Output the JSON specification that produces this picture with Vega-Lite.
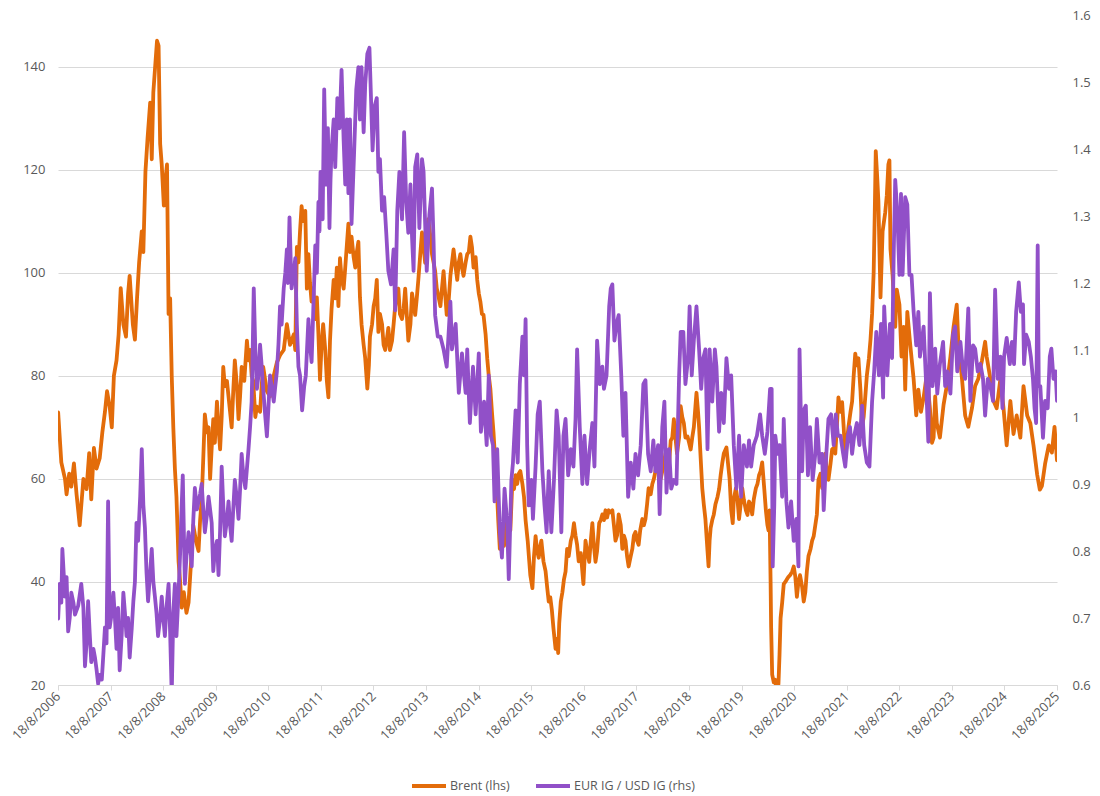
{
  "$schema": "https://vega.github.io/schema/vega-lite/v6.json",
  "width": 999,
  "height": 670,
  "autosize": {"type": "none"},
  "padding": {"left": 58, "top": 15, "right": 43, "bottom": 111},
  "background": "white",
  "config": {
    "view": {"stroke": null},
    "font": "Open Sans",
    "axis": {"labelFont": "Open Sans", "labelFontSize": 13, "labelColor": "#595959", "title": null},
    "legend": {"labelFont": "Open Sans", "labelFontSize": 12.5, "labelColor": "#595959"}
  },
  "datasets": {
    "brent": [
      {"year":2006.63,"value":72.9},{"year":2006.69,"value":63.2},{"year":2006.76,"value":60},{"year":2006.79,"value":57},{"year":2006.84,"value":61},{"year":2006.88,"value":58.5},{"year":2006.93,"value":63},{"year":2006.98,"value":57},{"year":2007.04,"value":51},{"year":2007.11,"value":60},{"year":2007.17,"value":58},{"year":2007.22,"value":65},{"year":2007.26,"value":56},{"year":2007.31,"value":66},{"year":2007.36,"value":62},{"year":2007.42,"value":64},{"year":2007.47,"value":69},{"year":2007.52,"value":73},{"year":2007.56,"value":77},{"year":2007.61,"value":74},{"year":2007.65,"value":70},{"year":2007.69,"value":80},{"year":2007.74,"value":83},{"year":2007.78,"value":88},{"year":2007.82,"value":97},{"year":2007.87,"value":90},{"year":2007.92,"value":87.6},{"year":2007.96,"value":96},{"year":2007.99,"value":99.4},
      {"year":2008.05,"value":90},{"year":2008.09,"value":87},{"year":2008.13,"value":95},{"year":2008.17,"value":102},{"year":2008.22,"value":108},{"year":2008.25,"value":104},{"year":2008.29,"value":119.6},{"year":2008.33,"value":126},{"year":2008.38,"value":133},{"year":2008.41,"value":122},{"year":2008.44,"value":135},{"year":2008.48,"value":140.7},{"year":2008.51,"value":145},{"year":2008.54,"value":144},{"year":2008.57,"value":125},{"year":2008.60,"value":121},{"year":2008.64,"value":113},{"year":2008.67,"value":118},{"year":2008.70,"value":121},{"year":2008.73,"value":92},{"year":2008.76,"value":95},{"year":2008.79,"value":80},{"year":2008.82,"value":70},{"year":2008.85,"value":62},{"year":2008.88,"value":56.5},{"year":2008.92,"value":44},{"year":2008.95,"value":40},{"year":2008.98,"value":35},
      {"year":2009.02,"value":38},{"year":2009.07,"value":34},{"year":2009.11,"value":36},{"year":2009.14,"value":41},{"year":2009.17,"value":46},{"year":2009.20,"value":51},{"year":2009.25,"value":48},{"year":2009.30,"value":46},{"year":2009.33,"value":52},{"year":2009.36,"value":56},{"year":2009.39,"value":64},{"year":2009.42,"value":72.5},{"year":2009.46,"value":69},{"year":2009.49,"value":70},{"year":2009.52,"value":60},{"year":2009.55,"value":66},{"year":2009.58,"value":71.6},{"year":2009.61,"value":67},{"year":2009.65,"value":75},{"year":2009.68,"value":70},{"year":2009.71,"value":65.7},{"year":2009.74,"value":72},{"year":2009.77,"value":81.7},{"year":2009.80,"value":78},{"year":2009.84,"value":79},{"year":2009.89,"value":74},{"year":2009.93,"value":70},{"year":2009.96,"value":77},{"year":2009.99,"value":83},
      {"year":2010.03,"value":78},{"year":2010.06,"value":71.6},{"year":2010.09,"value":76},{"year":2010.12,"value":81.7},{"year":2010.17,"value":79},{"year":2010.22,"value":86.8},{"year":2010.25,"value":83},{"year":2010.28,"value":85},{"year":2010.31,"value":80},{"year":2010.34,"value":79},{"year":2010.38,"value":72},{"year":2010.41,"value":74},{"year":2010.47,"value":73},{"year":2010.50,"value":78},{"year":2010.53,"value":81.7},{"year":2010.60,"value":77},{"year":2010.66,"value":76},{"year":2010.73,"value":80},{"year":2010.79,"value":82.6},{"year":2010.85,"value":84},{"year":2010.92,"value":85},{"year":2010.98,"value":90},
      {"year":2011.04,"value":86},{"year":2011.11,"value":88},{"year":2011.14,"value":85},{"year":2011.17,"value":105},{"year":2011.20,"value":102},{"year":2011.23,"value":108},{"year":2011.26,"value":112.9},{"year":2011.29,"value":110},{"year":2011.33,"value":112},{"year":2011.36,"value":96.9},{"year":2011.39,"value":103.6},{"year":2011.42,"value":98},{"year":2011.45,"value":94.4},{"year":2011.48,"value":97},{"year":2011.52,"value":91},{"year":2011.55,"value":95.2},{"year":2011.58,"value":88},{"year":2011.61,"value":79.2},{"year":2011.64,"value":86},{"year":2011.67,"value":90},{"year":2011.71,"value":85},{"year":2011.74,"value":79},{"year":2011.77,"value":75.8},{"year":2011.80,"value":86.8},{"year":2011.83,"value":93},{"year":2011.87,"value":98.6},{"year":2011.90,"value":95},{"year":2011.93,"value":101},{"year":2011.96,"value":93.5},{"year":2011.99,"value":102.8},
      {"year":2012.02,"value":99},{"year":2012.06,"value":96.9},{"year":2012.09,"value":101},{"year":2012.12,"value":105.3},{"year":2012.15,"value":109.5},{"year":2012.18,"value":104},{"year":2012.21,"value":107},{"year":2012.25,"value":103},{"year":2012.28,"value":101},{"year":2012.31,"value":104},{"year":2012.34,"value":106},{"year":2012.37,"value":95.2},{"year":2012.40,"value":90},{"year":2012.44,"value":86},{"year":2012.47,"value":83.4},{"year":2012.50,"value":79},{"year":2012.51,"value":77.5},{"year":2012.54,"value":82},{"year":2012.56,"value":87.6},{"year":2012.60,"value":90},{"year":2012.63,"value":93.5},{"year":2012.66,"value":95},{"year":2012.69,"value":98.6},{"year":2012.72,"value":88.5},{"year":2012.75,"value":92},{"year":2012.79,"value":90},{"year":2012.82,"value":86},{"year":2012.85,"value":85},{"year":2012.88,"value":87},{"year":2012.91,"value":89.3},{"year":2012.94,"value":85},{"year":2012.98,"value":86.8},
      {"year":2013.01,"value":90},{"year":2013.04,"value":93.5},{"year":2013.07,"value":96},{"year":2013.10,"value":96.9},{"year":2013.13,"value":92},{"year":2013.17,"value":91},{"year":2013.20,"value":93},{"year":2013.23,"value":96.9},{"year":2013.26,"value":92},{"year":2013.29,"value":86.8},{"year":2013.33,"value":90},{"year":2013.36,"value":96},{"year":2013.39,"value":94},{"year":2013.42,"value":91.8},{"year":2013.45,"value":95},{"year":2013.48,"value":98.6},{"year":2013.52,"value":104},{"year":2013.55,"value":107.8},{"year":2013.58,"value":105},{"year":2013.61,"value":101.9},{"year":2013.64,"value":106},{"year":2013.67,"value":110.4},{"year":2013.71,"value":107},{"year":2013.74,"value":103.6},{"year":2013.77,"value":102},{"year":2013.80,"value":100.3},{"year":2013.83,"value":97},{"year":2013.87,"value":95},{"year":2013.90,"value":93.5},{"year":2013.93,"value":97},{"year":2013.96,"value":100.3},{"year":2013.99,"value":96},
      {"year":2014.02,"value":91.8},{"year":2014.06,"value":95},{"year":2014.09,"value":99.4},{"year":2014.15,"value":104.5},{"year":2014.19,"value":101},{"year":2014.22,"value":98.6},{"year":2014.25,"value":102},{"year":2014.28,"value":103.6},{"year":2014.31,"value":101},{"year":2014.34,"value":99.4},{"year":2014.38,"value":102},{"year":2014.41,"value":103.6},{"year":2014.44,"value":104},{"year":2014.47,"value":107},{"year":2014.50,"value":105},{"year":2014.53,"value":101},{"year":2014.57,"value":103},{"year":2014.60,"value":98.6},{"year":2014.63,"value":96},{"year":2014.66,"value":94.4},{"year":2014.69,"value":92},{"year":2014.72,"value":91.8},{"year":2014.76,"value":88},{"year":2014.79,"value":83.4},{"year":2014.82,"value":80},{"year":2014.85,"value":77.5},{"year":2014.88,"value":73},{"year":2014.91,"value":69},{"year":2014.95,"value":62},{"year":2014.98,"value":56.5},
      {"year":2015.00,"value":52},{"year":2015.03,"value":46.4},{"year":2015.05,"value":48},{"year":2015.08,"value":49.7},{"year":2015.11,"value":47},{"year":2015.14,"value":51.4},{"year":2015.17,"value":49},{"year":2015.20,"value":52.2},{"year":2015.23,"value":50},{"year":2015.27,"value":59.8},{"year":2015.30,"value":58},{"year":2015.33,"value":60.7},{"year":2015.36,"value":59},{"year":2015.39,"value":61},{"year":2015.42,"value":61.5},{"year":2015.46,"value":59},{"year":2015.49,"value":56.5},{"year":2015.52,"value":52},{"year":2015.56,"value":48},{"year":2015.59,"value":44},{"year":2015.61,"value":41.3},{"year":2015.65,"value":38.8},{"year":2015.68,"value":45},{"year":2015.71,"value":48.9},{"year":2015.74,"value":46},{"year":2015.77,"value":44.7},{"year":2015.80,"value":47},{"year":2015.82,"value":48},{"year":2015.86,"value":44},{"year":2015.90,"value":42.1},{"year":2015.93,"value":39},{"year":2015.96,"value":36.2},{"year":2015.99,"value":37},
      {"year":2016.02,"value":34.5},{"year":2016.05,"value":31},{"year":2016.09,"value":27},{"year":2016.12,"value":29},{"year":2016.14,"value":26.2},{"year":2016.16,"value":32},{"year":2016.19,"value":36.2},{"year":2016.22,"value":38},{"year":2016.25,"value":40.5},{"year":2016.28,"value":42},{"year":2016.31,"value":46.4},{"year":2016.34,"value":45},{"year":2016.38,"value":48},{"year":2016.41,"value":49},{"year":2016.44,"value":51.4},{"year":2016.47,"value":49},{"year":2016.50,"value":47.2},{"year":2016.53,"value":44},{"year":2016.57,"value":45.6},{"year":2016.60,"value":42},{"year":2016.62,"value":39.6},{"year":2016.64,"value":44},{"year":2016.66,"value":48},{"year":2016.69,"value":46},{"year":2016.73,"value":43.9},{"year":2016.76,"value":48},{"year":2016.79,"value":51.4},{"year":2016.82,"value":47},{"year":2016.85,"value":43.9},{"year":2016.88,"value":46},{"year":2016.92,"value":51.4},{"year":2016.95,"value":52},{"year":2016.98,"value":53.1},
      {"year":2017.01,"value":52},{"year":2017.04,"value":53.9},{"year":2017.07,"value":52.5},{"year":2017.10,"value":53.9},{"year":2017.13,"value":53.5},{"year":2017.17,"value":53.9},{"year":2017.20,"value":51},{"year":2017.23,"value":48},{"year":2017.26,"value":49},{"year":2017.29,"value":53.1},{"year":2017.33,"value":51},{"year":2017.36,"value":46.4},{"year":2017.39,"value":49},{"year":2017.42,"value":48},{"year":2017.45,"value":45},{"year":2017.48,"value":43},{"year":2017.52,"value":45},{"year":2017.55,"value":46.4},{"year":2017.58,"value":49},{"year":2017.61,"value":49.7},{"year":2017.64,"value":48},{"year":2017.67,"value":47.2},{"year":2017.70,"value":50},{"year":2017.74,"value":52.2},{"year":2017.77,"value":51},{"year":2017.80,"value":52.2},{"year":2017.83,"value":55},{"year":2017.86,"value":58.2},{"year":2017.90,"value":57},{"year":2017.93,"value":59},{"year":2017.96,"value":60},{"year":2017.99,"value":61.5},
      {"year":2018.02,"value":64},{"year":2018.05,"value":62.4},{"year":2018.09,"value":60},{"year":2018.12,"value":61.5},{"year":2018.15,"value":63},{"year":2018.18,"value":64.9},{"year":2018.21,"value":65},{"year":2018.25,"value":63},{"year":2018.28,"value":67.4},{"year":2018.31,"value":68},{"year":2018.34,"value":71.6},{"year":2018.37,"value":68},{"year":2018.40,"value":64.9},{"year":2018.44,"value":68},{"year":2018.47,"value":74.1},{"year":2018.50,"value":72},{"year":2018.53,"value":70.8},{"year":2018.56,"value":68},{"year":2018.60,"value":68.2},{"year":2018.63,"value":67},{"year":2018.66,"value":65.7},{"year":2018.69,"value":68},{"year":2018.72,"value":70},{"year":2018.75,"value":74},{"year":2018.77,"value":76.7},{"year":2018.80,"value":73},{"year":2018.82,"value":70},{"year":2018.85,"value":64},{"year":2018.88,"value":58.2},{"year":2018.91,"value":55},{"year":2018.94,"value":52.2},{"year":2018.98,"value":46},
      {"year":2019.00,"value":43},{"year":2019.02,"value":48},{"year":2019.04,"value":50.5},{"year":2019.07,"value":52},{"year":2019.10,"value":53.1},{"year":2019.13,"value":55},{"year":2019.17,"value":56.5},{"year":2019.20,"value":58},{"year":2019.23,"value":60.7},{"year":2019.26,"value":63},{"year":2019.29,"value":64.9},{"year":2019.34,"value":66.1},{"year":2019.37,"value":63},{"year":2019.40,"value":60},{"year":2019.43,"value":54},{"year":2019.46,"value":51.4},{"year":2019.48,"value":56},{"year":2019.52,"value":58.2},{"year":2019.55,"value":56},{"year":2019.58,"value":52.2},{"year":2019.61,"value":55},{"year":2019.64,"value":58.2},{"year":2019.67,"value":56},{"year":2019.71,"value":53.9},{"year":2019.74,"value":53},{"year":2019.77,"value":55.6},{"year":2019.80,"value":55},{"year":2019.83,"value":53.1},{"year":2019.86,"value":56},{"year":2019.90,"value":58.2},{"year":2019.93,"value":59},{"year":2019.96,"value":60.7},{"year":2019.99,"value":61.5},
      {"year":2020.02,"value":63.2},{"year":2020.06,"value":58},{"year":2020.09,"value":53.9},{"year":2020.12,"value":51},{"year":2020.14,"value":50},{"year":2020.16,"value":53.9},{"year":2020.18,"value":40},{"year":2020.19,"value":31.2},{"year":2020.21,"value":22},{"year":2020.24,"value":20.5},{"year":2020.27,"value":21},{"year":2020.30,"value":18},{"year":2020.33,"value":20.3},{"year":2020.35,"value":26},{"year":2020.37,"value":33},{"year":2020.40,"value":36},{"year":2020.43,"value":39.6},{"year":2020.46,"value":40},{"year":2020.49,"value":40.5},{"year":2020.52,"value":41},{"year":2020.55,"value":41.3},{"year":2020.59,"value":42},{"year":2020.62,"value":43},{"year":2020.65,"value":41},{"year":2020.68,"value":37.1},{"year":2020.71,"value":40},{"year":2020.74,"value":41.3},{"year":2020.78,"value":39},{"year":2020.81,"value":36.2},{"year":2020.84,"value":38},{"year":2020.87,"value":42.1},{"year":2020.90,"value":45},{"year":2020.94,"value":46.4},{"year":2020.97,"value":48},
      {"year":2021.00,"value":48.9},{"year":2021.03,"value":51},{"year":2021.06,"value":53.1},{"year":2021.09,"value":59.8},{"year":2021.13,"value":61},{"year":2021.16,"value":58.2},{"year":2021.19,"value":62},{"year":2021.22,"value":64.9},{"year":2021.25,"value":61},{"year":2021.28,"value":59.8},{"year":2021.32,"value":63},{"year":2021.35,"value":65.7},{"year":2021.38,"value":66},{"year":2021.41,"value":64.9},{"year":2021.44,"value":70},{"year":2021.47,"value":75.8},{"year":2021.51,"value":73},{"year":2021.54,"value":74.9},{"year":2021.57,"value":70},{"year":2021.60,"value":64},{"year":2021.63,"value":67},{"year":2021.66,"value":70},{"year":2021.70,"value":73},{"year":2021.73,"value":75},{"year":2021.76,"value":80},{"year":2021.79,"value":84.3},{"year":2021.82,"value":82},{"year":2021.85,"value":83.4},{"year":2021.89,"value":77},{"year":2021.92,"value":70},{"year":2021.95,"value":72},{"year":2021.98,"value":75.8},
      {"year":2022.01,"value":80},{"year":2022.05,"value":83.4},{"year":2022.08,"value":87},{"year":2022.11,"value":92},{"year":2022.14,"value":100},{"year":2022.16,"value":111},{"year":2022.18,"value":123.6},{"year":2022.21,"value":118},{"year":2022.23,"value":113.9},{"year":2022.26,"value":100},{"year":2022.27,"value":95.2},{"year":2022.31,"value":108},{"year":2022.36,"value":111.7},{"year":2022.39,"value":115},{"year":2022.42,"value":121},{"year":2022.44,"value":121.8},{"year":2022.46,"value":104.6},{"year":2022.50,"value":99.5},{"year":2022.55,"value":89.5},{"year":2022.58,"value":96.7},{"year":2022.63,"value":93.8},{"year":2022.67,"value":83.7},{"year":2022.71,"value":89.5},{"year":2022.74,"value":77.3},{"year":2022.78,"value":92.4},{"year":2022.83,"value":86.6},{"year":2022.90,"value":79.4},{"year":2022.95,"value":72.3},{"year":2022.99,"value":77.3},
      {"year":2023.04,"value":73},{"year":2023.09,"value":75.8},{"year":2023.15,"value":80.2},{"year":2023.21,"value":73.7},{"year":2023.25,"value":67},{"year":2023.28,"value":68},{"year":2023.31,"value":76},{"year":2023.34,"value":70.8},{"year":2023.40,"value":68},{"year":2023.47,"value":74.4},{"year":2023.53,"value":78},{"year":2023.60,"value":83.7},{"year":2023.66,"value":89.5},{"year":2023.72,"value":93.8},{"year":2023.75,"value":86.6},{"year":2023.82,"value":79.4},{"year":2023.88,"value":72.3},{"year":2023.94,"value":70.1},
      {"year":2024.01,"value":73.7},{"year":2024.07,"value":78},{"year":2024.13,"value":79.4},{"year":2024.20,"value":83},{"year":2024.26,"value":86.6},{"year":2024.29,"value":83.7},{"year":2024.36,"value":79.4},{"year":2024.42,"value":75.1},{"year":2024.48,"value":73.7},{"year":2024.55,"value":79.4},{"year":2024.61,"value":73.7},{"year":2024.67,"value":66.5},{"year":2024.74,"value":75.1},{"year":2024.80,"value":68.7},{"year":2024.86,"value":72.3},{"year":2024.93,"value":68},{"year":2024.99,"value":78},
      {"year":2025.06,"value":72.3},{"year":2025.12,"value":70.8},{"year":2025.18,"value":66.5},{"year":2025.25,"value":60.8},{"year":2025.30,"value":57.9},{"year":2025.34,"value":58.6},{"year":2025.40,"value":62.9},{"year":2025.47,"value":66.5},{"year":2025.53,"value":65.1},{"year":2025.58,"value":70.1},{"year":2025.627,"value":63.6}
    ],
    "ratio": [
      {"year":2006.63,"value":0.699},{"year":2006.66,"value":0.751},{"year":2006.69,"value":0.723},{"year":2006.71,"value":0.803},{"year":2006.76,"value":0.732},{"year":2006.79,"value":0.761},{"year":2006.82,"value":0.68},{"year":2006.85,"value":0.7},{"year":2006.88,"value":0.738},{"year":2006.92,"value":0.723},{"year":2006.95,"value":0.705},{"year":2007.01,"value":0.718},{"year":2007.07,"value":0.751},{"year":2007.11,"value":0.715},{"year":2007.14,"value":0.628},{"year":2007.17,"value":0.662},{"year":2007.20,"value":0.725},{"year":2007.23,"value":0.677},{"year":2007.26,"value":0.634},{"year":2007.30,"value":0.654},{"year":2007.33,"value":0.641},{"year":2007.36,"value":0.623},{"year":2007.39,"value":0.602},{"year":2007.42,"value":0.615},{"year":2007.46,"value":0.608},{"year":2007.49,"value":0.646},{"year":2007.52,"value":0.686},{"year":2007.55,"value":0.662},{"year":2007.58,"value":0.874},{"year":2007.61,"value":0.686},{"year":2007.65,"value":0.708},{"year":2007.68,"value":0.738},{"year":2007.71,"value":0.7},{"year":2007.74,"value":0.654},{"year":2007.77,"value":0.715},{"year":2007.80,"value":0.622},{"year":2007.84,"value":0.677},{"year":2007.87,"value":0.738},{"year":2007.90,"value":0.708},{"year":2007.93,"value":0.673},{"year":2007.96,"value":0.7},{"year":2007.99,"value":0.641},
      {"year":2008.03,"value":0.685},{"year":2008.06,"value":0.725},{"year":2008.09,"value":0.754},{"year":2008.12,"value":0.842},{"year":2008.15,"value":0.815},{"year":2008.19,"value":0.881},{"year":2008.22,"value":0.952},{"year":2008.25,"value":0.869},{"year":2008.28,"value":0.835},{"year":2008.31,"value":0.769},{"year":2008.34,"value":0.725},{"year":2008.38,"value":0.769},{"year":2008.41,"value":0.803},{"year":2008.44,"value":0.754},{"year":2008.47,"value":0.732},{"year":2008.50,"value":0.708},{"year":2008.53,"value":0.673},{"year":2008.57,"value":0.7},{"year":2008.60,"value":0.732},{"year":2008.63,"value":0.7},{"year":2008.66,"value":0.673},{"year":2008.69,"value":0.715},{"year":2008.73,"value":0.751},{"year":2008.76,"value":0.677},{"year":2008.79,"value":0.585},{"year":2008.82,"value":0.708},{"year":2008.85,"value":0.751},{"year":2008.88,"value":0.673},{"year":2008.92,"value":0.738},{"year":2008.95,"value":0.797},{"year":2008.97,"value":0.846},
      {"year":2009.00,"value":0.913},{"year":2009.02,"value":0.831},{"year":2009.04,"value":0.751},{"year":2009.07,"value":0.792},{"year":2009.11,"value":0.828},{"year":2009.14,"value":0.808},{"year":2009.17,"value":0.777},{"year":2009.20,"value":0.846},{"year":2009.23,"value":0.894},{"year":2009.27,"value":0.862},{"year":2009.30,"value":0.874},{"year":2009.33,"value":0.885},{"year":2009.36,"value":0.9},{"year":2009.39,"value":0.862},{"year":2009.42,"value":0.828},{"year":2009.46,"value":0.854},{"year":2009.49,"value":0.881},{"year":2009.52,"value":0.862},{"year":2009.55,"value":0.842},{"year":2009.58,"value":0.77},{"year":2009.61,"value":0.8},{"year":2009.65,"value":0.815},{"year":2009.68,"value":0.764},{"year":2009.71,"value":0.831},{"year":2009.74,"value":0.926},{"year":2009.77,"value":0.869},{"year":2009.80,"value":0.822},{"year":2009.84,"value":0.846},{"year":2009.87,"value":0.874},{"year":2009.90,"value":0.838},{"year":2009.93,"value":0.815},{"year":2009.96,"value":0.862},{"year":2009.99,"value":0.906},
      {"year":2010.03,"value":0.877},{"year":2010.06,"value":0.848},{"year":2010.09,"value":0.892},{"year":2010.12,"value":0.945},{"year":2010.15,"value":0.915},{"year":2010.19,"value":0.894},{"year":2010.22,"value":0.923},{"year":2010.25,"value":0.952},{"year":2010.28,"value":0.985},{"year":2010.31,"value":1.023},{"year":2010.33,"value":1.1},{"year":2010.35,"value":1.192},{"year":2010.38,"value":1.1},{"year":2010.41,"value":1.042},{"year":2010.44,"value":1.062},{"year":2010.47,"value":1.108},{"year":2010.50,"value":1.077},{"year":2010.53,"value":1.042},{"year":2010.57,"value":1.0},{"year":2010.60,"value":0.971},{"year":2010.63,"value":1.015},{"year":2010.66,"value":1.062},{"year":2010.69,"value":1.046},{"year":2010.73,"value":1.023},{"year":2010.76,"value":1.046},{"year":2010.79,"value":1.068},{"year":2010.82,"value":1.108},{"year":2010.85,"value":1.165},{"year":2010.88,"value":1.138},{"year":2010.92,"value":1.192},{"year":2010.95,"value":1.215},{"year":2010.98,"value":1.25},
      {"year":2011.00,"value":1.2},{"year":2011.03,"value":1.298},{"year":2011.06,"value":1.215},{"year":2011.07,"value":1.192},{"year":2011.11,"value":1.215},{"year":2011.14,"value":1.237},{"year":2011.17,"value":1.138},{"year":2011.20,"value":1.075},{"year":2011.23,"value":1.062},{"year":2011.27,"value":1.01},{"year":2011.31,"value":1.046},{"year":2011.34,"value":1.062},{"year":2011.39,"value":1.146},{"year":2011.42,"value":1.108},{"year":2011.45,"value":1.082},{"year":2011.48,"value":1.154},{"year":2011.52,"value":1.256},{"year":2011.55,"value":1.215},{"year":2011.58,"value":1.321},{"year":2011.60,"value":1.277},{"year":2011.62,"value":1.366},{"year":2011.66,"value":1.295},{"year":2011.69,"value":1.489},{"year":2011.71,"value":1.408},{"year":2011.73,"value":1.347},{"year":2011.76,"value":1.431},{"year":2011.79,"value":1.282},{"year":2011.81,"value":1.354},{"year":2011.83,"value":1.398},{"year":2011.87,"value":1.444},{"year":2011.90,"value":1.373},{"year":2011.94,"value":1.476},{"year":2011.98,"value":1.431},
      {"year":2012.02,"value":1.518},{"year":2012.06,"value":1.412},{"year":2012.09,"value":1.347},{"year":2012.12,"value":1.444},{"year":2012.15,"value":1.334},{"year":2012.18,"value":1.444},{"year":2012.21,"value":1.288},{"year":2012.26,"value":1.398},{"year":2012.30,"value":1.489},{"year":2012.34,"value":1.522},{"year":2012.37,"value":1.444},{"year":2012.40,"value":1.522},{"year":2012.44,"value":1.425},{"year":2012.47,"value":1.496},{"year":2012.51,"value":1.542},{"year":2012.55,"value":1.551},{"year":2012.58,"value":1.476},{"year":2012.61,"value":1.398},{"year":2012.65,"value":1.464},{"year":2012.69,"value":1.476},{"year":2012.72,"value":1.366},{"year":2012.75,"value":1.385},{"year":2012.79,"value":1.308},{"year":2012.83,"value":1.328},{"year":2012.87,"value":1.275},{"year":2012.91,"value":1.218},{"year":2012.96,"value":1.198},
      {"year":2013.01,"value":1.25},{"year":2013.04,"value":1.159},{"year":2013.08,"value":1.308},{"year":2013.12,"value":1.366},{"year":2013.17,"value":1.295},{"year":2013.21,"value":1.425},{"year":2013.25,"value":1.321},{"year":2013.29,"value":1.275},{"year":2013.33,"value":1.347},{"year":2013.36,"value":1.269},{"year":2013.39,"value":1.218},{"year":2013.42,"value":1.373},{"year":2013.46,"value":1.392},{"year":2013.50,"value":1.282},{"year":2013.55,"value":1.385},{"year":2013.58,"value":1.366},{"year":2013.61,"value":1.288},{"year":2013.64,"value":1.218},{"year":2013.69,"value":1.302},{"year":2013.74,"value":1.341},{"year":2013.77,"value":1.262},{"year":2013.80,"value":1.152},{"year":2013.85,"value":1.12},{"year":2013.90,"value":1.12},{"year":2013.96,"value":1.101},
      {"year":2014.02,"value":1.075},{"year":2014.09,"value":1.172},{"year":2014.12,"value":1.101},{"year":2014.19,"value":1.139},{"year":2014.25,"value":1.036},{"year":2014.31,"value":1.095},{"year":2014.38,"value":1.036},{"year":2014.41,"value":1.101},{"year":2014.46,"value":0.991},{"year":2014.52,"value":1.075},{"year":2014.57,"value":1.004},{"year":2014.63,"value":1.095},{"year":2014.67,"value":0.978},{"year":2014.73,"value":1.023},{"year":2014.78,"value":0.958},{"year":2014.82,"value":1.062},{"year":2014.86,"value":0.972},{"year":2014.90,"value":0.958},{"year":2014.93,"value":0.874},{"year":2014.98,"value":0.952},
      {"year":2015.03,"value":0.828},{"year":2015.07,"value":0.79},{"year":2015.12,"value":0.893},{"year":2015.17,"value":0.842},{"year":2015.20,"value":0.758},{"year":2015.25,"value":0.906},{"year":2015.28,"value":0.932},{"year":2015.33,"value":1.01},{"year":2015.37,"value":0.932},{"year":2015.41,"value":1.049},{"year":2015.46,"value":1.12},{"year":2015.49,"value":1.062},{"year":2015.52,"value":1.146},{"year":2015.55,"value":0.958},{"year":2015.58,"value":0.868},{"year":2015.63,"value":0.906},{"year":2015.66,"value":0.848},{"year":2015.71,"value":0.926},{"year":2015.75,"value":1.004},{"year":2015.79,"value":1.023},{"year":2015.84,"value":0.919},{"year":2015.88,"value":0.868},{"year":2015.92,"value":0.828},{"year":2015.96,"value":0.919},
      {"year":2016.01,"value":0.828},{"year":2016.06,"value":0.906},{"year":2016.11,"value":1.01},{"year":2016.15,"value":0.972},{"year":2016.20,"value":0.828},{"year":2016.24,"value":0.972},{"year":2016.28,"value":0.997},{"year":2016.33,"value":0.913},{"year":2016.38,"value":0.952},{"year":2016.43,"value":0.926},{"year":2016.47,"value":0.997},{"year":2016.50,"value":1.101},{"year":2016.55,"value":0.985},{"year":2016.60,"value":0.9},{"year":2016.64,"value":0.972},{"year":2016.69,"value":0.9},{"year":2016.74,"value":0.952},{"year":2016.79,"value":0.991},{"year":2016.83,"value":0.926},{"year":2016.88,"value":1.114},{"year":2016.93,"value":1.049},{"year":2016.98,"value":1.075},
      {"year":2017.01,"value":1.042},{"year":2017.06,"value":1.062},{"year":2017.11,"value":1.165},{"year":2017.14,"value":1.192},{"year":2017.17,"value":1.198},{"year":2017.21,"value":1.114},{"year":2017.25,"value":1.139},{"year":2017.29,"value":1.152},{"year":2017.34,"value":1.062},{"year":2017.38,"value":0.972},{"year":2017.42,"value":1.036},{"year":2017.47,"value":0.881},{"year":2017.52,"value":0.932},{"year":2017.57,"value":0.893},{"year":2017.61,"value":0.945},{"year":2017.66,"value":0.913},{"year":2017.71,"value":0.958},{"year":2017.76,"value":1.049},{"year":2017.80,"value":1.055},{"year":2017.85,"value":0.945},{"year":2017.90,"value":0.919},{"year":2017.95,"value":0.965},{"year":2017.99,"value":0.919},
      {"year":2018.04,"value":0.958},{"year":2018.07,"value":0.855},{"year":2018.12,"value":0.985},{"year":2018.16,"value":1.023},{"year":2018.20,"value":0.887},{"year":2018.25,"value":0.952},{"year":2018.29,"value":0.893},{"year":2018.34,"value":0.906},{"year":2018.39,"value":0.9},{"year":2018.44,"value":1.062},{"year":2018.47,"value":1.127},{"year":2018.52,"value":1.127},{"year":2018.56,"value":1.049},{"year":2018.61,"value":1.088},{"year":2018.64,"value":1.165},{"year":2018.68,"value":1.062},{"year":2018.72,"value":1.114},{"year":2018.77,"value":1.165},{"year":2018.82,"value":1.101},{"year":2018.86,"value":1.042},{"year":2018.90,"value":1.088},{"year":2018.94,"value":1.101},{"year":2018.98,"value":0.952},
      {"year":2019.02,"value":1.101},{"year":2019.07,"value":1.023},{"year":2019.12,"value":1.101},{"year":2019.15,"value":1.075},{"year":2019.20,"value":0.978},{"year":2019.24,"value":1.036},{"year":2019.29,"value":0.991},{"year":2019.34,"value":1.088},{"year":2019.39,"value":1.042},{"year":2019.43,"value":1.062},{"year":2019.48,"value":0.958},{"year":2019.53,"value":0.893},{"year":2019.58,"value":0.972},{"year":2019.62,"value":0.881},{"year":2019.67,"value":0.958},{"year":2019.73,"value":0.926},{"year":2019.77,"value":0.965},{"year":2019.81,"value":0.926},{"year":2019.86,"value":0.958},{"year":2019.92,"value":0.972},{"year":2019.98,"value":1.004},
      {"year":2020.02,"value":0.972},{"year":2020.07,"value":0.945},{"year":2020.12,"value":0.978},{"year":2020.17,"value":1.042},{"year":2020.20,"value":1.042},{"year":2020.22,"value":0.777},{"year":2020.25,"value":0.869},{"year":2020.27,"value":0.972},{"year":2020.31,"value":0.945},{"year":2020.35,"value":0.958},{"year":2020.40,"value":0.881},{"year":2020.43,"value":0.997},{"year":2020.48,"value":0.874},{"year":2020.52,"value":0.835},{"year":2020.57,"value":0.874},{"year":2020.62,"value":0.815},{"year":2020.67,"value":0.848},{"year":2020.71,"value":0.777},{"year":2020.73,"value":1.101},{"year":2020.76,"value":0.985},{"year":2020.78,"value":0.919},{"year":2020.81,"value":1.01},{"year":2020.85,"value":1.017},{"year":2020.89,"value":0.913},{"year":2020.93,"value":0.985},{"year":2020.98,"value":0.906},
      {"year":2021.03,"value":0.945},{"year":2021.06,"value":0.997},{"year":2021.11,"value":0.932},{"year":2021.16,"value":0.945},{"year":2021.19,"value":0.861},{"year":2021.24,"value":0.945},{"year":2021.28,"value":0.997},{"year":2021.33,"value":1.004},{"year":2021.38,"value":0.958},{"year":2021.42,"value":1.004},{"year":2021.46,"value":0.972},{"year":2021.51,"value":0.972},{"year":2021.56,"value":0.945},{"year":2021.60,"value":0.926},{"year":2021.65,"value":0.972},{"year":2021.69,"value":0.985},{"year":2021.73,"value":0.945},{"year":2021.77,"value":0.972},{"year":2021.82,"value":0.991},{"year":2021.87,"value":0.958},{"year":2021.92,"value":1.017},{"year":2021.96,"value":0.958},
      {"year":2022.01,"value":0.932},{"year":2022.06,"value":0.926},{"year":2022.11,"value":1.023},{"year":2022.15,"value":1.068},{"year":2022.19,"value":1.127},{"year":2022.24,"value":1.062},{"year":2022.28,"value":1.139},{"year":2022.32,"value":1.029},{"year":2022.34,"value":1.165},{"year":2022.40,"value":1.062},{"year":2022.45,"value":1.139},{"year":2022.49,"value":1.088},{"year":2022.52,"value":1.237},{"year":2022.55,"value":1.354},{"year":2022.59,"value":1.305},{"year":2022.63,"value":1.212},{"year":2022.66,"value":1.333},{"year":2022.69,"value":1.212},{"year":2022.74,"value":1.328},{"year":2022.78,"value":1.317},{"year":2022.82,"value":1.212},{"year":2022.86,"value":1.212},{"year":2022.90,"value":1.157},{"year":2022.95,"value":1.107},{"year":2022.99,"value":1.157},
      {"year":2023.02,"value":1.09},{"year":2023.09,"value":1.135},{"year":2023.14,"value":1.046},{"year":2023.18,"value":0.963},{"year":2023.21,"value":1.185},{"year":2023.26,"value":1.046},{"year":2023.31,"value":1.102},{"year":2023.35,"value":1.035},{"year":2023.40,"value":1.079},{"year":2023.46,"value":1.112},{"year":2023.50,"value":1.046},{"year":2023.54,"value":1.068},{"year":2023.60,"value":1.035},{"year":2023.65,"value":1.123},{"year":2023.69,"value":1.135},{"year":2023.73,"value":1.068},{"year":2023.79,"value":1.112},{"year":2023.84,"value":1.068},{"year":2023.88,"value":1.057},{"year":2023.94,"value":1.162},{"year":2023.98,"value":1.024},
      {"year":2024.03,"value":1.107},{"year":2024.07,"value":1.102},{"year":2024.12,"value":1.068},{"year":2024.17,"value":1.079},{"year":2024.22,"value":1.057},{"year":2024.26,"value":1.002},{"year":2024.31,"value":1.057},{"year":2024.36,"value":1.046},{"year":2024.41,"value":1.024},{"year":2024.45,"value":1.19},{"year":2024.50,"value":1.057},{"year":2024.55,"value":1.09},{"year":2024.59,"value":1.013},{"year":2024.62,"value":1.09},{"year":2024.67,"value":1.118},{"year":2024.73,"value":1.079},{"year":2024.77,"value":1.112},{"year":2024.81,"value":1.079},{"year":2024.85,"value":1.157},{"year":2024.90,"value":1.201},{"year":2024.94,"value":1.157},{"year":2024.98,"value":1.168},
      {"year":2025.00,"value":1.079},{"year":2025.04,"value":1.123},{"year":2025.09,"value":1.112},{"year":2025.13,"value":1.09},{"year":2025.17,"value":1.057},{"year":2025.20,"value":1.013},{"year":2025.23,"value":0.991},{"year":2025.26,"value":1.256},{"year":2025.28,"value":1.046},{"year":2025.31,"value":1.046},{"year":2025.36,"value":0.969},{"year":2025.40,"value":1.024},{"year":2025.45,"value":1.013},{"year":2025.49,"value":1.09},{"year":2025.52,"value":1.102},{"year":2025.56,"value":1.057},{"year":2025.60,"value":1.068},{"year":2025.627,"value":1.024}
    ]
  },
  "encoding": {
    "x": {
      "field": "year",
      "type": "quantitative",
      "scale": {"domain": [2006.627, 2025.627], "nice": false, "zero": false},
      "axis": {
        "values": [2006.627, 2007.627, 2008.627, 2009.627, 2010.627, 2011.627, 2012.627, 2013.627, 2014.627, 2015.627, 2016.627, 2017.627, 2018.627, 2019.627, 2020.627, 2021.627, 2022.627, 2023.627, 2024.627, 2025.627],
        "labelExpr": "'18/8/' + floor(datum.value)",
        "labelAngle": -45,
        "labelAlign": "right",
        "labelBaseline": "middle",
        "labelPadding": 4,
        "labelFlush": false,
        "labelOverlap": false,
        "labelBound": false,
        "grid": false,
        "domainColor": "#d9d9d9",
        "domainWidth": 1,
        "tickColor": "#d9d9d9",
        "tickSize": 5,
        "title": null
      }
    }
  },
  "layer": [
    {
      "data": {"name": "brent"},
      "mark": {"type": "line", "strokeWidth": 3.8, "strokeJoin": "round", "strokeCap": "round", "clip": true},
      "encoding": {
        "y": {
          "field": "value",
          "type": "quantitative",
          "scale": {"domain": [20, 150], "nice": false, "zero": false},
          "axis": {
            "orient": "left",
            "values": [20, 40, 60, 80, 100, 120, 140],
            "grid": true,
            "gridColor": "#d9d9d9",
            "gridWidth": 1,
            "domain": false,
            "ticks": false,
            "labelPadding": 13,
            "title": null
          }
        },
        "color": {
          "datum": "Brent (lhs)",
          "type": "nominal",
          "scale": {"domain": ["Brent (lhs)", "EUR IG / USD IG (rhs)"], "range": ["#E36C0A", "#9150C8"]},
          "legend": {
            "orient": "none",
            "legendX": 352,
            "legendY": 752,
            "direction": "horizontal",
            "title": null,
            "symbolType": "stroke",
            "symbolSize": 1156,
            "symbolStrokeWidth": 4,
            "labelOffset": 2,
            "columnPadding": 18
          }
        }
      }
    },
    {
      "data": {"name": "ratio"},
      "mark": {"type": "line", "strokeWidth": 3.8, "strokeJoin": "round", "strokeCap": "round", "clip": true},
      "encoding": {
        "y": {
          "field": "value",
          "type": "quantitative",
          "scale": {"domain": [0.6, 1.6], "nice": false, "zero": false},
          "axis": {
            "orient": "right",
            "values": [0.6, 0.7, 0.8, 0.9, 1, 1.1, 1.2, 1.3, 1.4, 1.5, 1.6],
            "format": "~g",
            "grid": false,
            "domain": false,
            "ticks": false,
            "labelPadding": 15,
            "title": null
          }
        },
        "color": {"datum": "EUR IG / USD IG (rhs)", "type": "nominal"}
      }
    }
  ],
  "resolve": {"scale": {"y": "independent"}}
}
